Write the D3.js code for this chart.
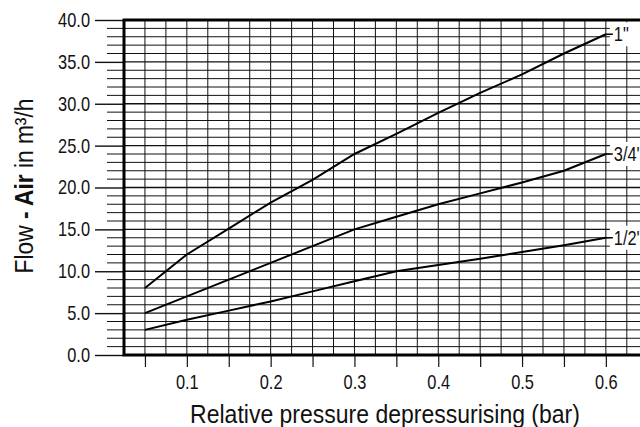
<!DOCTYPE html>
<html>
<head>
<meta charset="utf-8">
<script src="https://cdn.jsdelivr.net/npm/d3@7"></script>
<style>
  body { margin: 0; background: #fff; }
  svg { display: block; font-family: "Liberation Sans", Arial, sans-serif; }
</style>
</head>
<body>
<svg id="chart" width="640" height="427"></svg>
<script>
// pressure values (bar)
const pressure = [0.05, 0.1, 0.15, 0.2, 0.25, 0.3, 0.35, 0.4, 0.45, 0.5, 0.55, 0.6]

// flow values (m3/h)
const flow_1in = [8, 12, 15.1, 18.2, 20.9, 24, 26.4, 28.9, 31.3, 33.5, 36, 38.3]
const flow_3_4in = [5, 7, 9, 11, 13, 15, 16.5, 18, 19.3, 20.6, 22, 24]
const flow_1_2in = [3, 4.2, 5.3, 6.4, 7.6, 8.8, 10, 10.75, 11.5, 12.3, 13.1, 14]

const seriesNames = ['1"', "3/4'", "1/2'"]
const seriesValues = [flow_1in, flow_3_4in, flow_1_2in]

const xTicks = [0.1, 0.2, 0.3, 0.4, 0.5, 0.6]
const yTicks = [0, 5, 10, 15, 20, 25, 30, 35, 40]

const svg = d3.select("#chart")

/**
 * Scales. The plot runs past the right edge of the picture, like the original.
 */
const x = d3.scaleLinear().domain([0.025, 0.675]).range([124, 124 + 26 * 20.95])
const y = d3.scaleLinear().domain([0, 40]).range([355, 20])

const right = 650

// condensed look for the text
const tickScale = 0.82

/**
 * Grid
 */
const g_grid = svg.append("g").attr("class", "grid")

g_grid.selectAll(".hgrid")
  .data(d3.range(1, 40))
  .enter()
  .append("line")
  .attr("x1", (d) => (d % 5 === 0 ? x(0.025) : 107))
  .attr("x2", right)
  .attr("y1", (d) => y(d))
  .attr("y2", (d) => y(d))
  .attr("stroke", "#111")
  .attr("stroke-width", (d) => (d % 5 === 0 ? 1.4 : 1))

g_grid.selectAll(".vgrid")
  .data(d3.range(2, 27).map((i) => i * 0.025))
  .enter()
  .append("line")
  .attr("x1", (d) => x(d))
  .attr("x2", (d) => x(d))
  .attr("y1", y(40))
  .attr("y2", y(0))
  .attr("stroke", "#111")
  .attr("stroke-width", 1)

/**
 * Axes
 */
let x_axis = d3.axisBottom(x)
  .tickValues(xTicks)
  .tickSize(12)
  .tickPadding(8)
  .tickFormat(d3.format(".1f"))

let x_minor = d3.axisBottom(x)
  .tickValues(xTicks.map((d) => d - 0.05))
  .tickSize(12)
  .tickFormat("")

let y_axis = d3.axisLeft(y)
  .tickValues(yTicks)
  .tickSize(29)
  .tickPadding(5)
  .tickFormat(d3.format(".1f"))

svg.append("g")
  .attr("transform", "translate(0," + y(0) + ")")
  .call(x_minor)
  .call((g) => g.select(".domain").remove())
  .call((g) => g.selectAll("line").attr("stroke", "#111").attr("stroke-width", 1.2))

svg.append("g")
  .attr("transform", "translate(0," + y(0) + ")")
  .call(x_axis)
  .call((g) => g.select(".domain").remove())
  .call((g) => g.selectAll("line").attr("stroke", "#111").attr("stroke-width", 1.2))
  .call((g) => g.selectAll("text")
    .attr("font-family", null)
    .attr("font-size", 20)
    .attr("fill", "#111")
    .attr("transform", `scale(${tickScale},1)`))

svg.append("g")
  .attr("transform", "translate(" + x(0.025) + ",0)")
  .call(y_axis)
  .call((g) => g.select(".domain").remove())
  .call((g) => g.selectAll("line").attr("stroke", "#111").attr("stroke-width", 1.4))
  .call((g) => g.selectAll("text")
    .attr("font-family", null)
    .attr("font-size", 20)
    .attr("fill", "#111")
    .attr("x", -34 / tickScale)
    .attr("transform", `scale(${tickScale},1)`))

/**
 * Frame
 */
svg.append("path")
  .attr("d", `M${right},${y(40)} H${x(0.025)} V${y(0)} H${right}`)
  .attr("fill", "none")
  .attr("stroke", "#000")
  .attr("stroke-width", 3)

/**
 * Curves
 */
const line = d3.line()
  .x((d) => x(d[0]))
  .y((d) => y(d[1]))

const series = seriesNames.map((name, i) => ({
  name: name,
  points: pressure.map((p, j) => [p, seriesValues[i][j]]),
}))

svg.selectAll(".curve")
  .data(series)
  .enter()
  .append("path")
  .attr("class", "curve")
  .attr("d", (d) => line(d.points))
  .attr("fill", "none")
  .attr("stroke", "#000")
  .attr("stroke-width", 2)

/**
 * Curve labels with white boxes
 */
let labels = svg.selectAll(".curve_label")
  .data(series)
  .enter()
  .append("g")
  .attr("class", "curve_label")
  .attr("transform", (d) => {
    const last = d.points[d.points.length - 1]
    return `translate(${x(last[0])},${y(last[1])})`
  })

labels.append("rect")
  .attr("x", 4)
  .attr("y", -12)
  .attr("width", 40)
  .attr("height", 24)
  .attr("fill", "#fff")

labels.append("line")
  .attr("x1", 0)
  .attr("x2", 7)
  .attr("stroke", "#000")
  .attr("stroke-width", 1.5)

labels.append("text")
  .attr("transform", `translate(8,0) scale(${tickScale},1)`)
  .attr("dy", "0.36em")
  .attr("font-size", 20)
  .attr("fill", "#111")
  .text((d) => d.name)

/**
 * Axis titles
 */
svg.append("text")
  .attr("transform", "translate(385,423) scale(0.92,1)")
  .attr("text-anchor", "middle")
  .attr("font-size", 25)
  .attr("fill", "#111")
  .text("Relative pressure depressurising (bar)")

let y_title = svg.append("text")
  .attr("transform", "translate(33,186) rotate(-90) scale(0.91,1)")
  .attr("text-anchor", "middle")
  .attr("font-size", 25)
  .attr("fill", "#111")

y_title.append("tspan").text("Flow ")
y_title.append("tspan").attr("font-weight", "bold").text("- Air")
y_title.append("tspan").text(" in m³/h")
</script>
</body>
</html>
